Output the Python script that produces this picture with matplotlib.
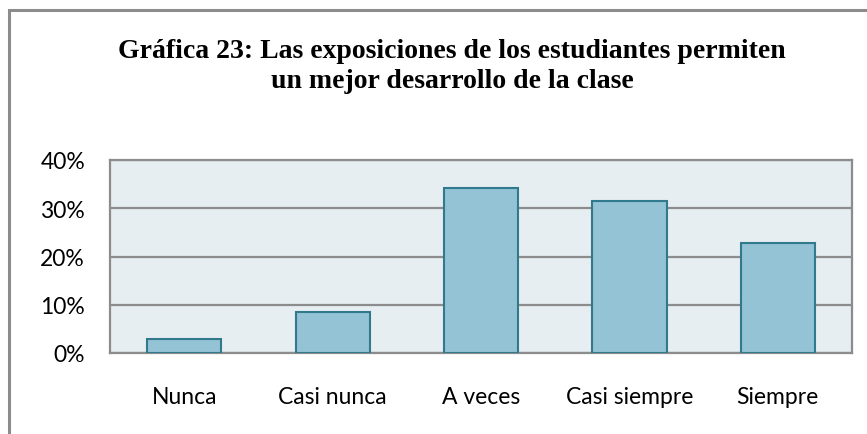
import matplotlib.pyplot as plt
from matplotlib.patches import Rectangle
from matplotlib.ticker import PercentFormatter

# data (n = 35 students)
categories = ['Nunca', 'Casi nunca', 'A veces', 'Casi siempre', 'Siempre']
percents = [2.86, 8.57, 34.29, 31.43, 22.86]
yticks = [0, 10, 20, 30, 40]
title_lines = ['Gráfica 23: Las exposiciones de los estudiantes permiten',
               'un mejor desarrollo de la clase']

fig = plt.figure(figsize=(8.67, 4.35), dpi=100)

# outer frame of the chart object
fig.patches.append(Rectangle((9 / 867, -0.05), 1.0, 1 - 11 / 435 + 0.05,
                             transform=fig.transFigure, fill=False,
                             edgecolor='#8c8c8c', linewidth=2.2))

ax = fig.add_axes([110 / 867, 1 - 354 / 435, 742 / 867, 193 / 435])
ax.set_facecolor('#e6eef2')

x = range(len(categories))
ax.bar(x, percents, width=0.5, color='#93c3d4', edgecolor='#31798c',
       linewidth=1.5, zorder=3)

ax.set_xlim(-0.5, len(categories) - 0.5)
ax.set_ylim(0, 40)
ax.set_yticks(yticks)
ax.yaxis.set_major_formatter(PercentFormatter(decimals=0))
ax.grid(axis='y', color='#8c8c8c', linewidth=1.6, zorder=1)
ax.set_xticks(list(x))
ax.set_xticklabels(categories)

for s in ax.spines.values():
    s.set_color('#8c8c8c')
    s.set_linewidth(1.6)
ax.tick_params(length=0, labelsize=16.5, colors='black')
ax.tick_params(axis='x', pad=24)
ax.tick_params(axis='y', pad=18)
for lab in ax.get_xticklabels() + ax.get_yticklabels():
    lab.set_fontfamily('Lato')

fig.text(452 / 867, 1 - 58 / 435, title_lines[0], ha='center', va='baseline',
         fontsize=20, fontweight='bold', family='Liberation Serif')
fig.text(452 / 867, 1 - 88 / 435, title_lines[1], ha='center', va='baseline',
         fontsize=20, fontweight='bold', family='Liberation Serif')

fig.savefig('out.png', dpi=100)
